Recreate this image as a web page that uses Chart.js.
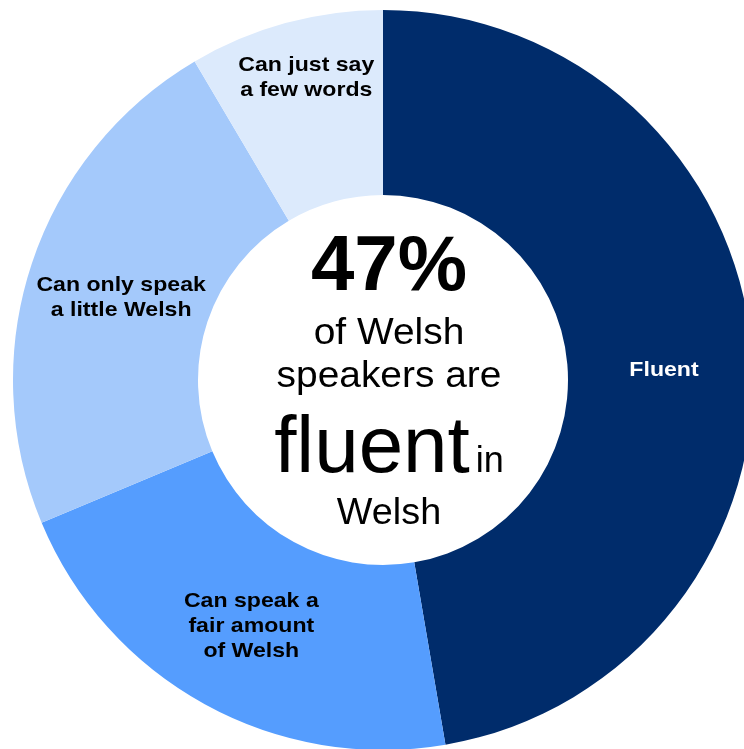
<!DOCTYPE html>
<html>
<head>
<meta charset="utf-8">
<script src="https://cdn.jsdelivr.net/npm/chart.js@4/dist/chart.umd.min.js"></script>
<style>
  html, body { margin: 0; padding: 0; background: #fff; overflow: hidden; width: 744px; height: 749px; }
  #wrap { position: absolute; left: 0; top: 0; width: 766px; height: 760px; }
</style>
</head>
<body>
<div id="wrap"><canvas id="c" width="766" height="760"></canvas></div>
<script>
// ---- data ----
const categories = ["Fluent", "Can speak a fair amount of Welsh", "Can only speak a little Welsh", "Can just say a few words"];
const labelLines = [["Fluent"], ["Can speak a", "fair amount", "of Welsh"], ["Can only speak", "a little Welsh"], ["Can just say", "a few words"]];
const shares = [47.3, 21.4, 22.8, 8.5];
const colors = ["#002C6B", "#559DFE", "#A4C9FB", "#DCEAFC"];
const labelColors = ["#FFFFFF", "#000000", "#000000", "#000000"];

const FONT = '"Liberation Sans", Arial, sans-serif';

const labelPlugin = {
  id: 'sliceLabels',
  afterDatasetsDraw(chart, args, opts) {
    const ctx = chart.ctx;
    const meta = chart.getDatasetMeta(0);
    meta.data.forEach((arc, i) => {
      const p = arc.tooltipPosition();
      const off = opts.offsets[i] || [0, 0];
      const lines = labelLines[i];
      const lh = opts.lineHeight;
      ctx.save();
      ctx.fillStyle = labelColors[i];
      ctx.font = 'bold ' + opts.size + 'px ' + FONT;
      ctx.textAlign = 'center';
      ctx.textBaseline = 'middle';
      const x = p.x + off[0];
      const y0 = p.y + off[1] - (lines.length - 1) * lh / 2;
      lines.forEach((t, k) => {
        ctx.save();
        ctx.translate(x, y0 + k * lh);
        ctx.scale(opts.stretch, 1);
        ctx.fillText(t, 0, 0);
        ctx.restore();
      });
      ctx.restore();
    });
  }
};

const centerPlugin = {
  id: 'centerText',
  afterDraw(chart) {
    const ctx = chart.ctx;
    const arc = chart.getDatasetMeta(0).data[0];
    const cx = arc.x + 6, cy = arc.y;
    ctx.save();
    ctx.fillStyle = '#000';
    ctx.textBaseline = 'alphabetic';
    ctx.textAlign = 'center';
    function line(text, font, dy, sx) {
      ctx.save();
      ctx.font = font;
      ctx.translate(cx, cy + dy);
      ctx.scale(sx, 1);
      ctx.fillText(text, 0, 0);
      ctx.restore();
    }
    line('47%', 'bold 78px ' + FONT, -90, 1.0);
    line('of Welsh', '36px ' + FONT, -36, 1.08);
    line('speakers are', '36px ' + FONT, 7, 1.08);
    // fluent + in
    ctx.font = '80px ' + FONT;
    const w1 = ctx.measureText('fluent').width;
    ctx.font = '36px ' + FONT;
    const w2 = ctx.measureText('in').width;
    const gap = 6;
    const total = w1 + gap + w2;
    ctx.textAlign = 'left';
    ctx.font = '80px ' + FONT;
    ctx.fillText('fluent', cx - total / 2, cy + 92);
    ctx.font = '36px ' + FONT;
    ctx.fillText('in', cx - total / 2 + w1 + gap, cy + 92);
    ctx.textAlign = 'center';
    line('Welsh', '36px ' + FONT, 144, 1.05);
    ctx.restore();
  }
};

new Chart(document.getElementById('c'), {
  type: 'doughnut',
  data: {
    labels: categories,
    datasets: [{
      data: shares,
      backgroundColor: colors,
      borderWidth: 0,
      hoverOffset: 0
    }]
  },
  options: {
    responsive: false,
    devicePixelRatio: 1,
    animation: false,
    cutout: '50%',
    layout: { padding: 10 },
    plugins: {
      legend: { display: false },
      tooltip: { enabled: false },
      sliceLabels: {
        size: 21,
        lineHeight: 25,
        stretch: 1.1,
        offsets: [[4.5, 13.5], [2, 3], [1.5, 5.5], [-3.5, -35]]
      }
    }
  },
  plugins: [labelPlugin, centerPlugin]
});
</script>
</body>
</html>
